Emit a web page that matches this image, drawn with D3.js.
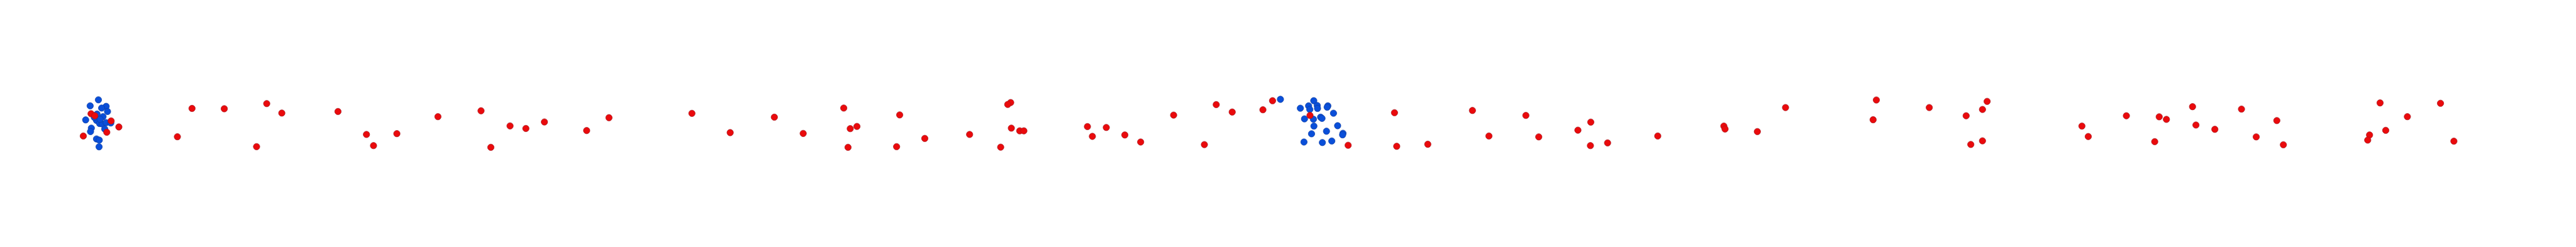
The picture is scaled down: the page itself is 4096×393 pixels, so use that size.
<!DOCTYPE html>
<html>
<head>
<meta charset="utf-8">
<script src="https://cdn.jsdelivr.net/npm/d3@7"></script>
<style>
  html, body { margin: 0; padding: 0; background: #fff; overflow: hidden; }
  svg { display: block; }
</style>
</head>
<body>
<script>
// Point positions (units = reference pixels, 5000 x 480 canvas)
const redX = [176.7,184,215.7,230.7,207.3,161.7,372.7,435.3,344.3,498,
  517.7,547,656,711.3,725,770.3,850,
  933.7,952.7,990,1020.7,1056.7,1138.7,1182,
  1343,1417.3,1503,1559,1637.7,1650.3,1663.3,1646,
  1746.3,1740.3,1795,1882,1961.7,1956,1963,1979.3,1987.3,1942.3,
  2110.7,2120.3,2147.3,2183.3,2214,2278,2337.7,2360.7,2391.7,2451.3,2470,
  2542.7,2616.7,2706.7,2711,2771.3,2858,2890,
  2961.7,2986.7,3062.7,3087.7,3087,3120.3,3217.7,
  3346,3348.3,3411,3465.7,3642,3635.7,
  3744.7,3816.3,3848,3857,3825.3,3848,4041,4053.3,
  4127.3,4182.3,4191,4205,4255.7,4262.3,4299,4350.7,4379.3,4419.3,4432,
  4619.7,4737,4672.7,4630.7,4599.3,4595.7,4763];
const redY = [221,225,235,246.7,257,264.3,210.7,211.3,265.7,285,
  201.3,219.7,216.7,261.3,283,259.7,226.7,
  215.3,286.3,244.7,249.7,237,253.7,228.7,
  220.3,257.7,227.7,259.3,210,250,245.7,286.3,
  223.3,285,269,261.3,199.3,203,249,254.3,254.3,286,
  246,265,247.7,262.3,276,223.7,281,203.3,217.7,213.3,195.7,
  224.3,282.3,219,284.3,280.3,214.7,264.3,
  224.3,266,253,237.3,283,277.7,264.3,
  245,250.7,255.7,209,194.3,232.7,
  209,225,212.7,197,280.7,273.7,245,265.3,
  225,275.3,227,232,207.3,243,251.3,212,266,234.3,281.3,
  200,200.7,226.7,253.3,262.3,272.3,274.3];

const blueX = [191,175,206,197.3,208.7,188.3,200,166.3,187.3,193.3,198.3,206,215,177.3,175.7,203.3,187.3,192.7,192.3,194.3,183,
  2485.3,
  2550,2524,2540,2542.3,2556.7,2557.3,2577.3,2576,2588.3,2532,2549.3,2563.3,2566,2550.3,2596.3,2545.7,2574.7,2606.7,2606,2531,2566.7,2585];
const blueY = [194,205.7,206.7,210,216.7,221.7,226.7,233,234,240,240.7,238.3,239,249,255.7,250.7,270,272.3,285.3,231.7,228,
  193,
  195.7,210.3,205.7,212.7,205,210.7,205.7,208.3,220,231,231.7,227.7,230,245,244.3,260,255,259,262,276,277,274];

const W = 4096, H = 393;
const x = d3.scaleLinear().domain([0, 5000]).range([0, W]);
const y = d3.scaleLinear().domain([0, 480]).range([0, H]);
const k = W / 5000;

const svg = d3.select("body").append("svg").attr("width", W).attr("height", H);
svg.append("rect").attr("width", W).attr("height", H).attr("fill", "#fff");

const blue = blueX.map((v, i) => ({x: v, y: blueY[i]}));
const red = redX.map((v, i) => ({x: v, y: redY[i]}));

svg.append("g").selectAll("circle").data(blue).join("circle")
  .attr("cx", d => x(d.x)).attr("cy", d => y(d.y)).attr("r", 6.3 * k)
  .attr("fill", "#0a4fd9").attr("stroke", "#0b3a9e").attr("stroke-opacity", 0.7).attr("stroke-width", 1);

svg.append("g").selectAll("circle").data(red).join("circle")
  .attr("cx", d => x(d.x)).attr("cy", d => y(d.y)).attr("r", 6.3 * k)
  .attr("fill", "#ea0a0c").attr("stroke", "#a3141c").attr("stroke-opacity", 0.7).attr("stroke-width", 1);
</script>
</body>
</html>
